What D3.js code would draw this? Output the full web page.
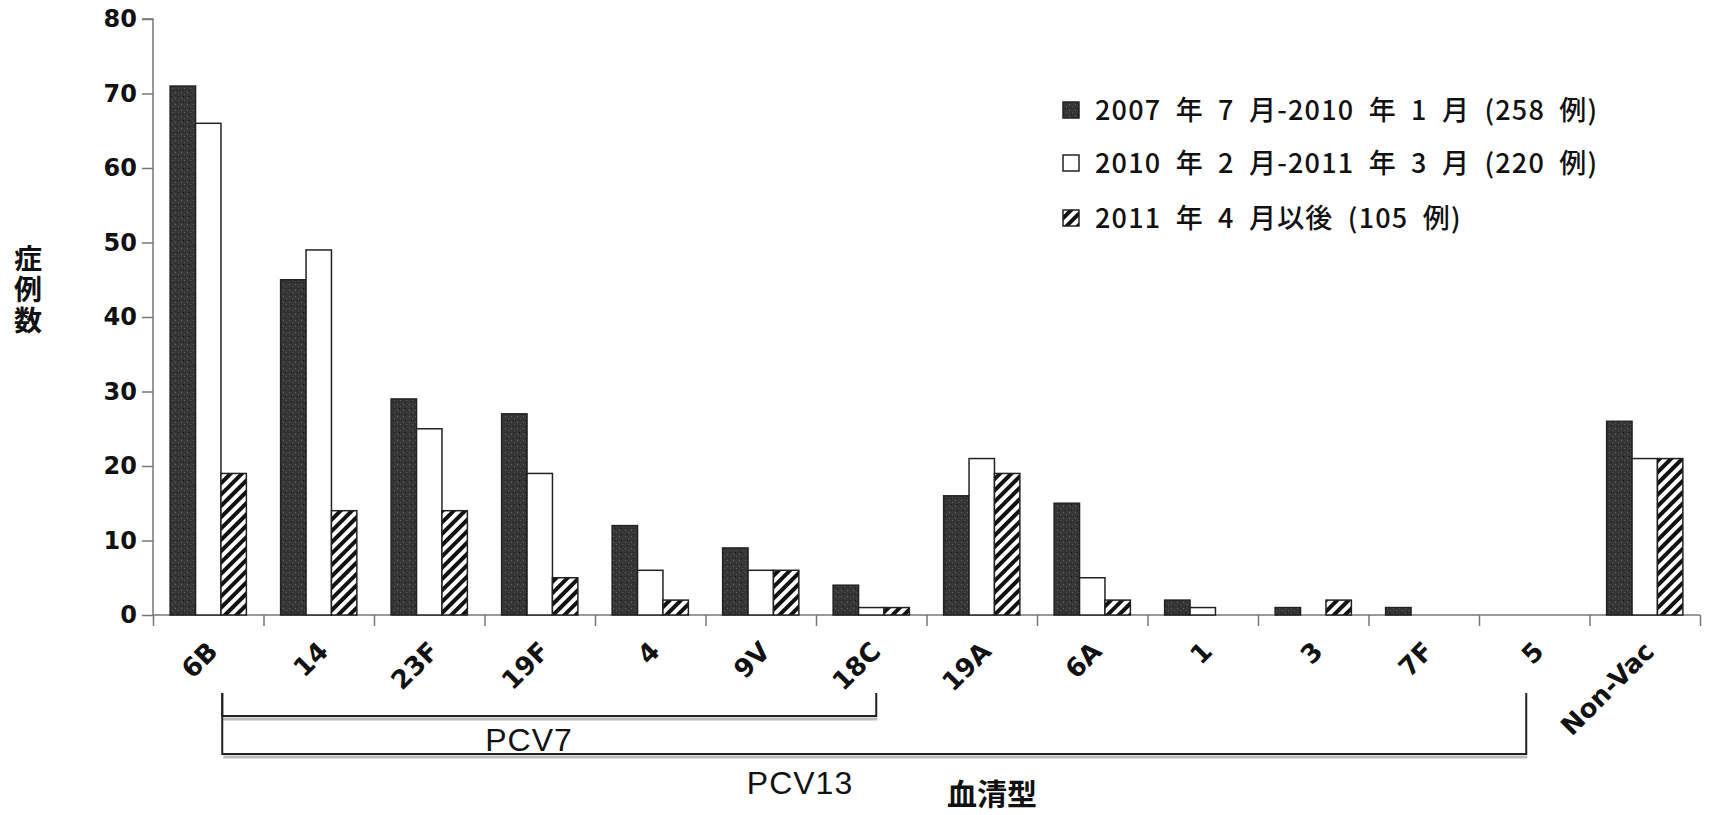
<!DOCTYPE html>
<html><head><meta charset="utf-8">
<script src="https://cdn.jsdelivr.net/npm/d3@7"></script>
<style>
body{margin:0;background:#fff;}
svg{display:block;}
</style></head>
<body>
<svg id="chart" width="1709" height="815"></svg>
<script>
const categories = ["6B","14","23F","19F","4","9V","18C","19A","6A","1","3","7F","5","Non-Vac"];
const seriesNames = ["2007 年 7 月-2010 年 1 月 (258 例)","2010 年 2 月-2011 年 3 月 (220 例)","2011 年 4 月以後 (105 例)"];
const seriesA = [71,45,29,27,12,9,4,16,15,2,1,1,0,26];
const seriesB = [66,49,25,19,6,6,1,21,5,1,0,0,0,21];
const seriesC = [19,14,14,5,2,6,1,19,2,0,2,0,0,21];
const yTicks = [0,10,20,30,40,50,60,70,80];
const brackets = [
  {label:"PCV7", from:"6B", to:"18C"},
  {label:"PCV13", from:"6B", to:"5"}
];
const yTitle = "症例数";
const xTitle = "血清型";

const svg = d3.select("#chart");
const defs = svg.append("defs");
const hatch = defs.append("pattern").attr("id","hatch").attr("patternUnits","userSpaceOnUse")
  .attr("width",8).attr("height",8).attr("patternTransform","rotate(45)");
hatch.append("rect").attr("width",8).attr("height",8).attr("fill","#fff");
hatch.append("rect").attr("x",0).attr("width",4).attr("height",8).attr("fill","#111");
const dark = defs.append("pattern").attr("id","dark").attr("patternUnits","userSpaceOnUse")
  .attr("width",6).attr("height",6);
dark.append("rect").attr("width",6).attr("height",6).attr("fill","#363636");
dark.append("rect").attr("x",1).attr("y",2).attr("width",1).attr("height",1).attr("fill","#666");
dark.append("rect").attr("x",4).attr("y",4).attr("width",1).attr("height",1).attr("fill","#555");
dark.append("rect").attr("x",3).attr("y",0).attr("width",1).attr("height",1).attr("fill","#1a1a1a");

const x0 = 153, x1 = 1700, y0 = 615, y1 = 19;
const x = d3.scaleBand().domain(categories).range([x0,x1]).paddingInner(0.31).paddingOuter(0.155);
const y = d3.scaleLinear().domain([0,80]).range([y0,y1]);
const sub = d3.scaleBand().domain([0,1,2]).range([0,x.bandwidth()]);

// axes
const yAxis = d3.axisLeft(y).tickValues(yTicks).tickSize(11).tickPadding(5).tickFormat(d3.format("d"));
const gy = svg.append("g").attr("transform",`translate(${x0},0)`).call(yAxis);
gy.select(".domain").attr("stroke","#777").attr("stroke-width",1.5).attr("d",`M-11,${y1}H0V${y0}`);
gy.selectAll(".tick line").attr("stroke","#777").attr("stroke-width",1.5);
gy.selectAll(".tick text").attr("font-family","DejaVu Sans").attr("font-weight","bold").attr("font-size",24).attr("fill","#111");

const xAxisScale = d3.scaleLinear().domain([0,categories.length]).range([x0,x1]);
const gx = svg.append("g").attr("transform",`translate(0,${y0})`)
  .call(d3.axisBottom(xAxisScale).tickValues(d3.range(0,categories.length+1)).tickSize(11).tickFormat(""));
gx.select(".domain").attr("stroke","#777").attr("stroke-width",1.5).attr("d",`M${x0},0H${x1}`);
gx.selectAll(".tick line").attr("stroke","#777").attr("stroke-width",1.5);

// bars
const series = [seriesA, seriesB, seriesC];
const fills = ["url(#dark)","#fff","url(#hatch)"];
series.forEach((vals,si)=>{
  svg.append("g").selectAll("rect").data(categories.map((c,i)=>({c,v:vals[i]})).filter(d=>d.v>0))
    .join("rect")
    .attr("x",d=>x(d.c)+sub(si))
    .attr("y",d=>y(d.v))
    .attr("width",sub.bandwidth())
    .attr("height",d=>y0-y(d.v))
    .attr("fill",fills[si])
    .attr("stroke","#222").attr("stroke-width",1.5);
});

// x labels
svg.append("g").selectAll("text").data(categories).join("text")
  .attr("transform",d=>`translate(${x(d)+x.bandwidth()/2+11},${y0+38}) rotate(-45)`)
  .attr("text-anchor","end")
  .attr("font-family","DejaVu Sans").attr("font-weight","bold").attr("font-size",26).attr("fill","#111")
  .text(d=>d);

// y title (vertical)
svg.append("text").attr("x",28).attr("y",244)
  .style("writing-mode","vertical-rl").style("letter-spacing","3px")
  .attr("font-family","Noto Sans CJK JP").attr("font-weight","bold").attr("font-size",28).attr("fill","#111")
  .text(yTitle);

// x title
svg.append("text").attr("x",992).attr("y",805).attr("text-anchor","middle")
  .attr("font-family","Noto Sans CJK JP").attr("font-weight","bold").attr("font-size",30).attr("fill","#111")
  .text(xTitle);

// brackets
const bTop = 693;
const bBottoms = [716, 754];
const offs = {"6B":14, "18C":5, "5":-8};
brackets.forEach((b,i)=>{
  const xa = x(b.from)+x.bandwidth()/2+offs[b.from];
  const xb = x(b.to)+x.bandwidth()/2+offs[b.to];
  const yb = bBottoms[i];
  svg.append("path").attr("d",`M${xa+1},${yb+3}H${xb+1}`).attr("stroke","#bbb").attr("stroke-width",3).attr("fill","none");
  svg.append("path").attr("d",`M${xa},${bTop}V${yb}H${xb}V${bTop}`).attr("stroke","#222").attr("stroke-width",2).attr("fill","none");
});
svg.append("text").attr("x",529).attr("y",751).attr("text-anchor","middle")
  .style("letter-spacing","1px")
  .attr("font-family","Liberation Sans").attr("font-size",32).attr("fill","#111").text(brackets[0].label);
svg.append("text").attr("x",800).attr("y",794).attr("text-anchor","middle")
  .style("letter-spacing","1px")
  .attr("font-family","Liberation Sans").attr("font-size",32).attr("fill","#111").text(brackets[1].label);

// legend
const lg = svg.append("g");
const rows = [110,163,218];
seriesNames.forEach((n,i)=>{
  lg.append("rect").attr("x",1063).attr("y",rows[i]-8).attr("width",16).attr("height",16)
    .attr("fill",fills[i]).attr("stroke","#222").attr("stroke-width",1.5);
  lg.append("text").attr("x",1095).attr("y",rows[i]+10)
    .style("letter-spacing","1.2px").style("word-spacing","7px")
    .attr("font-family","Noto Sans CJK JP").attr("font-weight",500).attr("font-size",27).attr("fill","#111")
    .text(n);
});
</script>
</body></html>
